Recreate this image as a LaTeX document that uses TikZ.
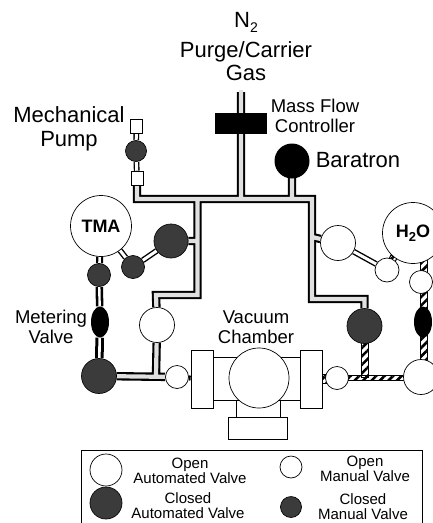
\documentclass[tikz,border=0pt]{standalone}
\usepackage{fontspec}
\setmainfont{Liberation Sans}
\usetikzlibrary{backgrounds,calc,patterns.meta,shapes.geometric}
\definecolor{pipegray}{gray}{0.88}
\definecolor{closedgray}{gray}{0.2}
\tikzset{
  x=1pt,y=-1pt,
  valve/.style={circle,draw=black,line width=0.7pt,inner sep=0pt,minimum size=#1},
  openv/.style={valve=#1,fill=white},
  closedv/.style={valve=#1,fill=closedgray,postaction={pattern={Dots[radius=0.4pt,distance=2pt]},pattern color=gray!80}},
  meter/.style={ellipse,fill=black,inner sep=0pt,minimum width=18pt,minimum height=31pt},
  sq/.style={rectangle,draw=black,line width=0.6pt,fill=white,inner sep=0pt},
  part/.style={draw=black,line width=0.7pt,fill=white},
  gouter/.style={draw=black,line width=8.4pt,line cap=square,line join=miter},
  ginner/.style={draw=pipegray,line width=4.2pt,line cap=butt,line join=miter},
  wpipe/.style={draw=black,line width=1.4pt,double=white,double distance=3pt},
  mouter/.style={draw=black,line width=#1},
  minner/.style={draw=white,line width=#1},
  hpipe/.style={draw=black,line width=1pt,pattern={Lines[angle=45,distance=6pt,line width=2.6pt]}},
  lab/.style={align=center,inner sep=0pt,font=\fontsize{18.5}{19.5}\selectfont},
  big/.style={align=center,inner sep=0pt,font=\fontsize{22}{23.5}\selectfont},
  leg/.style={align=center,inner sep=0pt,font=\fontsize{15}{15}\selectfont},
  tank/.style={circle,draw=black,line width=0.7pt,fill=white,inner sep=0pt,minimum size=61pt,font=\fontsize{18}{18}\selectfont\bfseries},
}
\newcommand{\gaslines}{
  (241,92) -- (241,199)
  (292,176) -- (292,199)
  (sqb) -- (137,199) -- (312,199) -- (312,299) -- (364.5,299) -- (vk)
  (197.5,199) -- (197.5,295) -- (156,295) -- (vf)
  (197.5,241) -- (vb)
  (vf) -- (156,376)
  (ve) -- (vg)
  (312,237) -- (vh)
}
\begin{document}
\begin{tikzpicture}
\useasboundingbox (0,0) rectangle (433,523);
% chamber
\draw[part] (236,395) rectangle (280,418);
\node[part,minimum width=59pt,minimum height=22pt,inner sep=0pt] (base) at (257.5,428) {};
\draw[part] (213,357) rectangle (300,400);
\node[part,minimum width=22pt,minimum height=58pt,inner sep=0pt] (fl) at (202,379) {};
\node[part,minimum width=22pt,minimum height=58pt,inner sep=0pt] (fr) at (311,379) {};
\node[valve=60pt,fill=white] (sphere) at (259,378) {};
% valves
\node[sq,minimum width=12pt,minimum height=14pt] (sqa) at (136.5,126) {};
\node[closedv=21pt] (vpump) at (136,151) {};
\node[sq,minimum width=12pt,minimum height=14pt] (sqb) at (137,178) {};
\node[fill=black,inner sep=0pt,minimum width=52pt,minimum height=21pt] (mfc) at (240.5,123) {};
\node[circle,fill=black,inner sep=0pt,minimum size=35pt] (bar) at (292,161) {};
\node[tank] (tma) at (101,226) {TMA};
\node[tank] (hho) at (413,233) {H\raisebox{-0.2em}{\fontsize{13}{13}\selectfont 2}O};
\node[closedv=34pt] (vb) at (171,241) {};
\node[closedv=23pt] (vc) at (133,267) {};
\node[closedv=23pt] (vd) at (99,275) {};
\node[meter] (ml) at (100,322) {};
\node[closedv=35pt] (ve) at (99,376) {};
\node[openv=35pt] (vf) at (157,325) {};
\node[openv=23pt] (vg) at (177,377) {};
\node[openv=35pt] (vh) at (338,243) {};
\node[openv=24pt] (vi) at (387,270) {};
\node[openv=23pt] (vj) at (421,282) {};
\node[meter] (mr) at (423,322) {};
\node[closedv=35pt] (vk) at (364.5,326) {};
\node[openv=23pt] (vl) at (337,378) {};
\node[openv=35pt] (vm) at (421,377) {};
\begin{scope}[on background layer]
  \draw[gouter] \gaslines;
  \draw[ginner] \gaslines;
  \draw[ginner] (241,90) -- (241,93);
  \draw[wpipe] (sqa) -- (vpump);
  \draw[wpipe] (vpump) -- (sqb);
  \draw[wpipe] (vb) -- (vc);
  \draw[wpipe] (vc) -- (tma);
  \draw[mouter=7pt] (tma) -- (vd);
  \draw[minner=2.6pt] (tma) -- (vd);
  \draw[mouter=7.5pt] (vd) -- (ml);
  \draw[minner=2.4pt] (vd) -- (ml);
  \draw[mouter=8.6pt] (ml) -- (ve);
  \draw[minner=2.6pt] (ml) -- (ve);
  \draw[wpipe] (vh) -- (vi);
  \draw[line width=5pt] (fl) -- (vg);
  \path[hpipe] (322,374) rectangle (328,383);
  \path[hpipe] ($(vk)+(-3.5,0)$) rectangle ($(vk|-vl)+(3.5,-1)$);
  \path[hpipe] ($(vl)+(0,-3)$) rectangle ($(vm)+(0,3)$);
  \path[hpipe] ($(vi)+(4,-15)$) -- ($(vi)+(10,-12)$) -- ($(vi)+(8,-8)$) -- ($(vi)+(2,-11)$) -- cycle;
  \path[hpipe] ($(hho)+(7,0)$) rectangle ($(vm)+(6,0)$);
\end{scope}
% labels
\node[big] (lgas) at (246,47) {N\raisebox{-0.2em}{\fontsize{14}{14}\selectfont 2}\\[6pt]Purge/Carrier\\Gas};
\node[big] (lpump) at (69,129) {Mechanical\\Pump};
\node[lab] (lmfc) at (315,116) {Mass Flow\\Controller};
\node[big] (lbar) at (358,160) {Baratron};
\node[lab] (lmet) at (51,327) {Metering\\Valve};
\node[lab] (lvac) at (256,327) {Vacuum\\Chamber};
% legend
\draw[line width=0.8pt] (81,523) -- (81,450) -- (422,450) -- (422,523);
\node[openv=32pt] (k1) at (106,470) {};
\node[closedv=32pt] (k2) at (106,503) {};
\node[openv=22pt] (k3) at (291,467) {};
\node[closedv=21pt] (k4) at (291,507) {};
\node[leg] (t1) at (190,471) {Open\\Automated Valve};
\node[leg] (t2) at (188,506) {Closed\\Automated Valve};
\node[leg] (t3) at (365,469) {Open\\Manual Valve};
\node[leg] (t4) at (363,506.5) {Closed\\Manual Valve};
\end{tikzpicture}
\end{document}
